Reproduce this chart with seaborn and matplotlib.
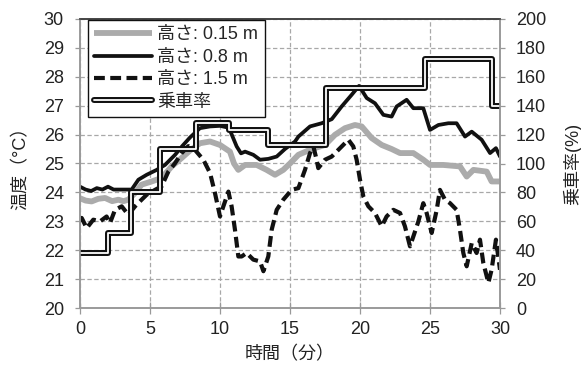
import numpy as np
import pandas as pd
import matplotlib
matplotlib.use('Agg')
import matplotlib.pyplot as plt
import matplotlib.patheffects as pe
import seaborn as sns

# ---- data ----
time_015 = [0, 0.4, 0.83, 1.3, 1.79, 2.3, 2.74, 3.1, 3.45, 3.93, 4.4, 5.12, 5.83, 6.55, 7.26, 7.86,
            8.57, 9.29, 10.0, 10.71, 11.0, 11.31, 11.79, 12.62, 13.33, 13.93, 14.52, 15.0, 15.6,
            16.55, 17.5, 18.21, 18.93, 19.64, 20.12, 20.83, 21.55, 22.26, 22.86, 23.81, 24.52,
            25.0, 25.95, 27.14, 27.62, 28.1, 29.05, 29.4, 30]
temp_015 = [23.8, 23.72, 23.69, 23.78, 23.81, 23.7, 23.75, 23.7, 23.75, 23.98, 24.27, 24.38, 24.5,
            24.9, 25.19, 25.45, 25.7, 25.76, 25.64, 25.41, 25.0, 24.78, 24.95, 24.95, 24.78, 24.61,
            24.78, 25.0, 25.3, 25.5, 25.64, 25.99, 26.22, 26.33, 26.28, 25.88, 25.64, 25.5, 25.36,
            25.36, 25.13, 24.95, 24.95, 24.9, 24.55, 24.78, 24.72, 24.38, 24.38]

time_08 = [0, 0.4, 0.8, 1.2, 1.6, 2.0, 2.4, 2.8, 3.2, 3.69, 4.17, 4.76, 5.48, 6.07, 6.79, 7.3, 7.86,
           8.57, 9.29, 10.0, 10.48, 10.7, 11.19, 11.5, 11.79, 12.38, 12.86, 13.45, 14.05, 14.64,
           15.36, 15.6, 16.43, 17.26, 17.98, 18.69, 19.4, 19.93, 20.48, 21.07, 21.67, 22.26,
           22.62, 23.33, 23.81, 24.52, 25.0, 25.6, 26.31, 26.9, 27.5, 27.98, 28.69, 29.29, 29.71, 30]
temp_08 = [24.2, 24.1, 24.05, 24.15, 24.1, 24.2, 24.1, 24.1, 24.1, 24.1, 24.44, 24.61, 24.78, 24.95,
           25.3, 25.6, 25.9, 26.22, 26.28, 26.3, 26.25, 26.16, 25.59, 25.35, 25.41, 25.3, 25.13,
           25.16, 25.24, 25.5, 25.76, 25.93, 26.28, 26.39, 26.53, 26.97, 27.37, 27.68, 27.26,
           27.08, 26.68, 26.62, 26.97, 27.2, 26.91, 26.91, 26.16, 26.33, 26.39, 26.39, 25.93,
           26.1, 25.82, 25.36, 25.53, 25.24]

time_15 = [0, 0.12, 0.48, 0.95, 1.43, 1.9, 2.14, 2.5, 2.98, 3.45, 3.93, 4.4, 4.76, 5.36, 5.83, 6.31,
           6.79, 7.26, 7.74, 8.21, 8.81, 9.29, 9.64, 10.0, 10.24, 10.6, 10.83, 11.07, 11.31, 11.55,
           11.9, 12.38, 12.86, 13.1, 13.45, 13.69, 14.05, 14.52, 15.12, 15.6, 16.07, 16.43, 16.67,
           16.9, 17.02, 17.5, 17.98, 18.45, 19.17, 19.52, 19.76, 20.0, 20.24, 20.6, 21.07, 21.55,
           21.9, 22.38, 22.86, 23.21, 23.57, 23.81, 24.17, 24.52, 24.76, 25.12, 25.48, 25.71,
           26.07, 26.43, 26.9, 27.14, 27.38, 27.62, 27.98, 28.33, 28.57, 28.81, 29.17, 29.4,
           29.71, 30]
temp_15 = [23.05, 23.12, 22.77, 23.06, 23.0, 23.17, 22.94, 23.4, 23.52, 23.23, 23.52, 23.75, 23.92,
           24.09, 24.21, 24.72, 25.01, 25.36, 25.6, 25.47, 25.13, 24.67, 23.98, 23.17, 23.52, 24.03,
           23.52, 22.71, 21.79, 21.79, 21.91, 21.68, 21.62, 21.28, 21.79, 22.71, 23.4, 23.75, 24.09,
           24.15, 24.78, 25.36, 25.59, 25.13, 24.84, 25.13, 25.24, 25.47, 25.82, 25.59, 25.13,
           24.44, 23.86, 23.52, 23.29, 22.83, 23.17, 23.4, 23.29, 22.83, 22.14, 22.48, 23.0, 23.63,
           23.29, 22.6, 23.4, 24.09, 23.75, 23.63, 23.4, 22.71, 21.91, 21.45, 22.25, 21.91, 22.37,
           21.56, 20.88, 21.33, 22.37, 21.33]

occ_time = [0, 2.02, 3.64, 5.71, 8.3, 10.65, 13.4, 17.6, 24.62, 29.4, 30]
occ_rate = [38, 52, 80, 110, 128, 123, 113, 152, 172, 140, 140]

labels = ['高さ: 0.15 m', '高さ: 0.8 m', '高さ: 1.5 m', '乗車率']
x_ticks = [0, 5, 10, 15, 20, 25, 30]
y_ticks = [20, 21, 22, 23, 24, 25, 26, 27, 28, 29, 30]
y2_ticks = [0, 20, 40, 60, 80, 100, 120, 140, 160, 180, 200]

# ---- style ----
sns.set_theme(style='white')
plt.rcParams['font.family'] = ['Liberation Sans', 'Noto Sans CJK JP']
plt.rcParams['font.size'] = 13
plt.rcParams['axes.unicode_minus'] = False
FS = 13

fig = plt.figure(figsize=(5.81, 3.67), dpi=100)
ax = fig.add_axes([80 / 581, 1 - 308.3 / 367, 420 / 581, 289.6 / 367])
ax2 = ax.twinx()

sns.lineplot(x=time_015, y=temp_015, ax=ax, color='#ababab', lw=4.2, label=labels[0],
             solid_capstyle='butt')
sns.lineplot(x=time_08, y=temp_08, ax=ax, color='#111111', lw=2.7, label=labels[1])
sns.lineplot(x=time_15, y=temp_15, ax=ax, color='#111111', lw=3.0, label=labels[2],
             linestyle='--')
ax.lines[-1].set_dashes([2.6, 1.3])

sns.lineplot(x=occ_time, y=occ_rate, ax=ax2, color='white', lw=1.3, drawstyle='steps-post',
             label=labels[3],
             path_effects=[pe.Stroke(linewidth=4.3, foreground='#111111'), pe.Normal()])

for a in (ax, ax2):
    if a.get_legend() is not None:
        a.get_legend().remove()

ax.set_xlim(0, 30)
ax.set_ylim(20, 30)
ax2.set_ylim(0, 200)
ax.set_xticks(x_ticks)
ax.set_yticks(y_ticks)
ax2.set_yticks(y2_ticks)

ax.grid(True, color='#a8a8a8', lw=0.9, linestyle=(0, (3.5, 2)))
ax2.grid(False)
ax.set_axisbelow(True)

ax.tick_params(axis='y', direction='out', length=3.6, width=0.9, color='#999999', pad=8,
               labelsize=FS, labelcolor='#222222', left=True)
ax.tick_params(axis='x', direction='inout', length=8, width=0.9, color='#999999', pad=5,
               labelsize=FS, labelcolor='#222222', bottom=True)
ax2.tick_params(axis='y', direction='out', length=3.6, width=0.9, color='#999999', pad=8,
                labelsize=FS, labelcolor='#222222', right=True)

for a in (ax, ax2):
    for s in ('left', 'right', 'bottom'):
        a.spines[s].set_color('#9a9a9a')
        a.spines[s].set_linewidth(1.2)
    a.spines['top'].set_color('#444444')
    a.spines['top'].set_linewidth(1.2)

ax.set_xlabel('時間（分）', fontsize=FS, color='#222222')
ax.set_ylabel('温度（°C）', fontsize=FS, color='#222222')
ax2.set_ylabel('乗車率(%)', fontsize=FS, color='#222222')
ax.xaxis.set_label_coords(0.5, -0.13)
ax.yaxis.set_label_coords(-0.12, 0.5)
ax2.yaxis.set_label_coords(1.15, 0.5)

h1, l1 = ax.get_legend_handles_labels()
h2, l2 = ax2.get_legend_handles_labels()
leg = ax2.legend(h1 + h2, l1 + l2, loc='upper left', bbox_to_anchor=(0.019, 0.995),
                 borderaxespad=0, frameon=True, fancybox=False, edgecolor='#111111',
                 framealpha=1, handlelength=3.2, handletextpad=0.3, labelspacing=0.3,
                 borderpad=0.35, fontsize=FS)
leg.get_frame().set_linewidth(1.0)

fig.savefig('out.png', dpi=100)
